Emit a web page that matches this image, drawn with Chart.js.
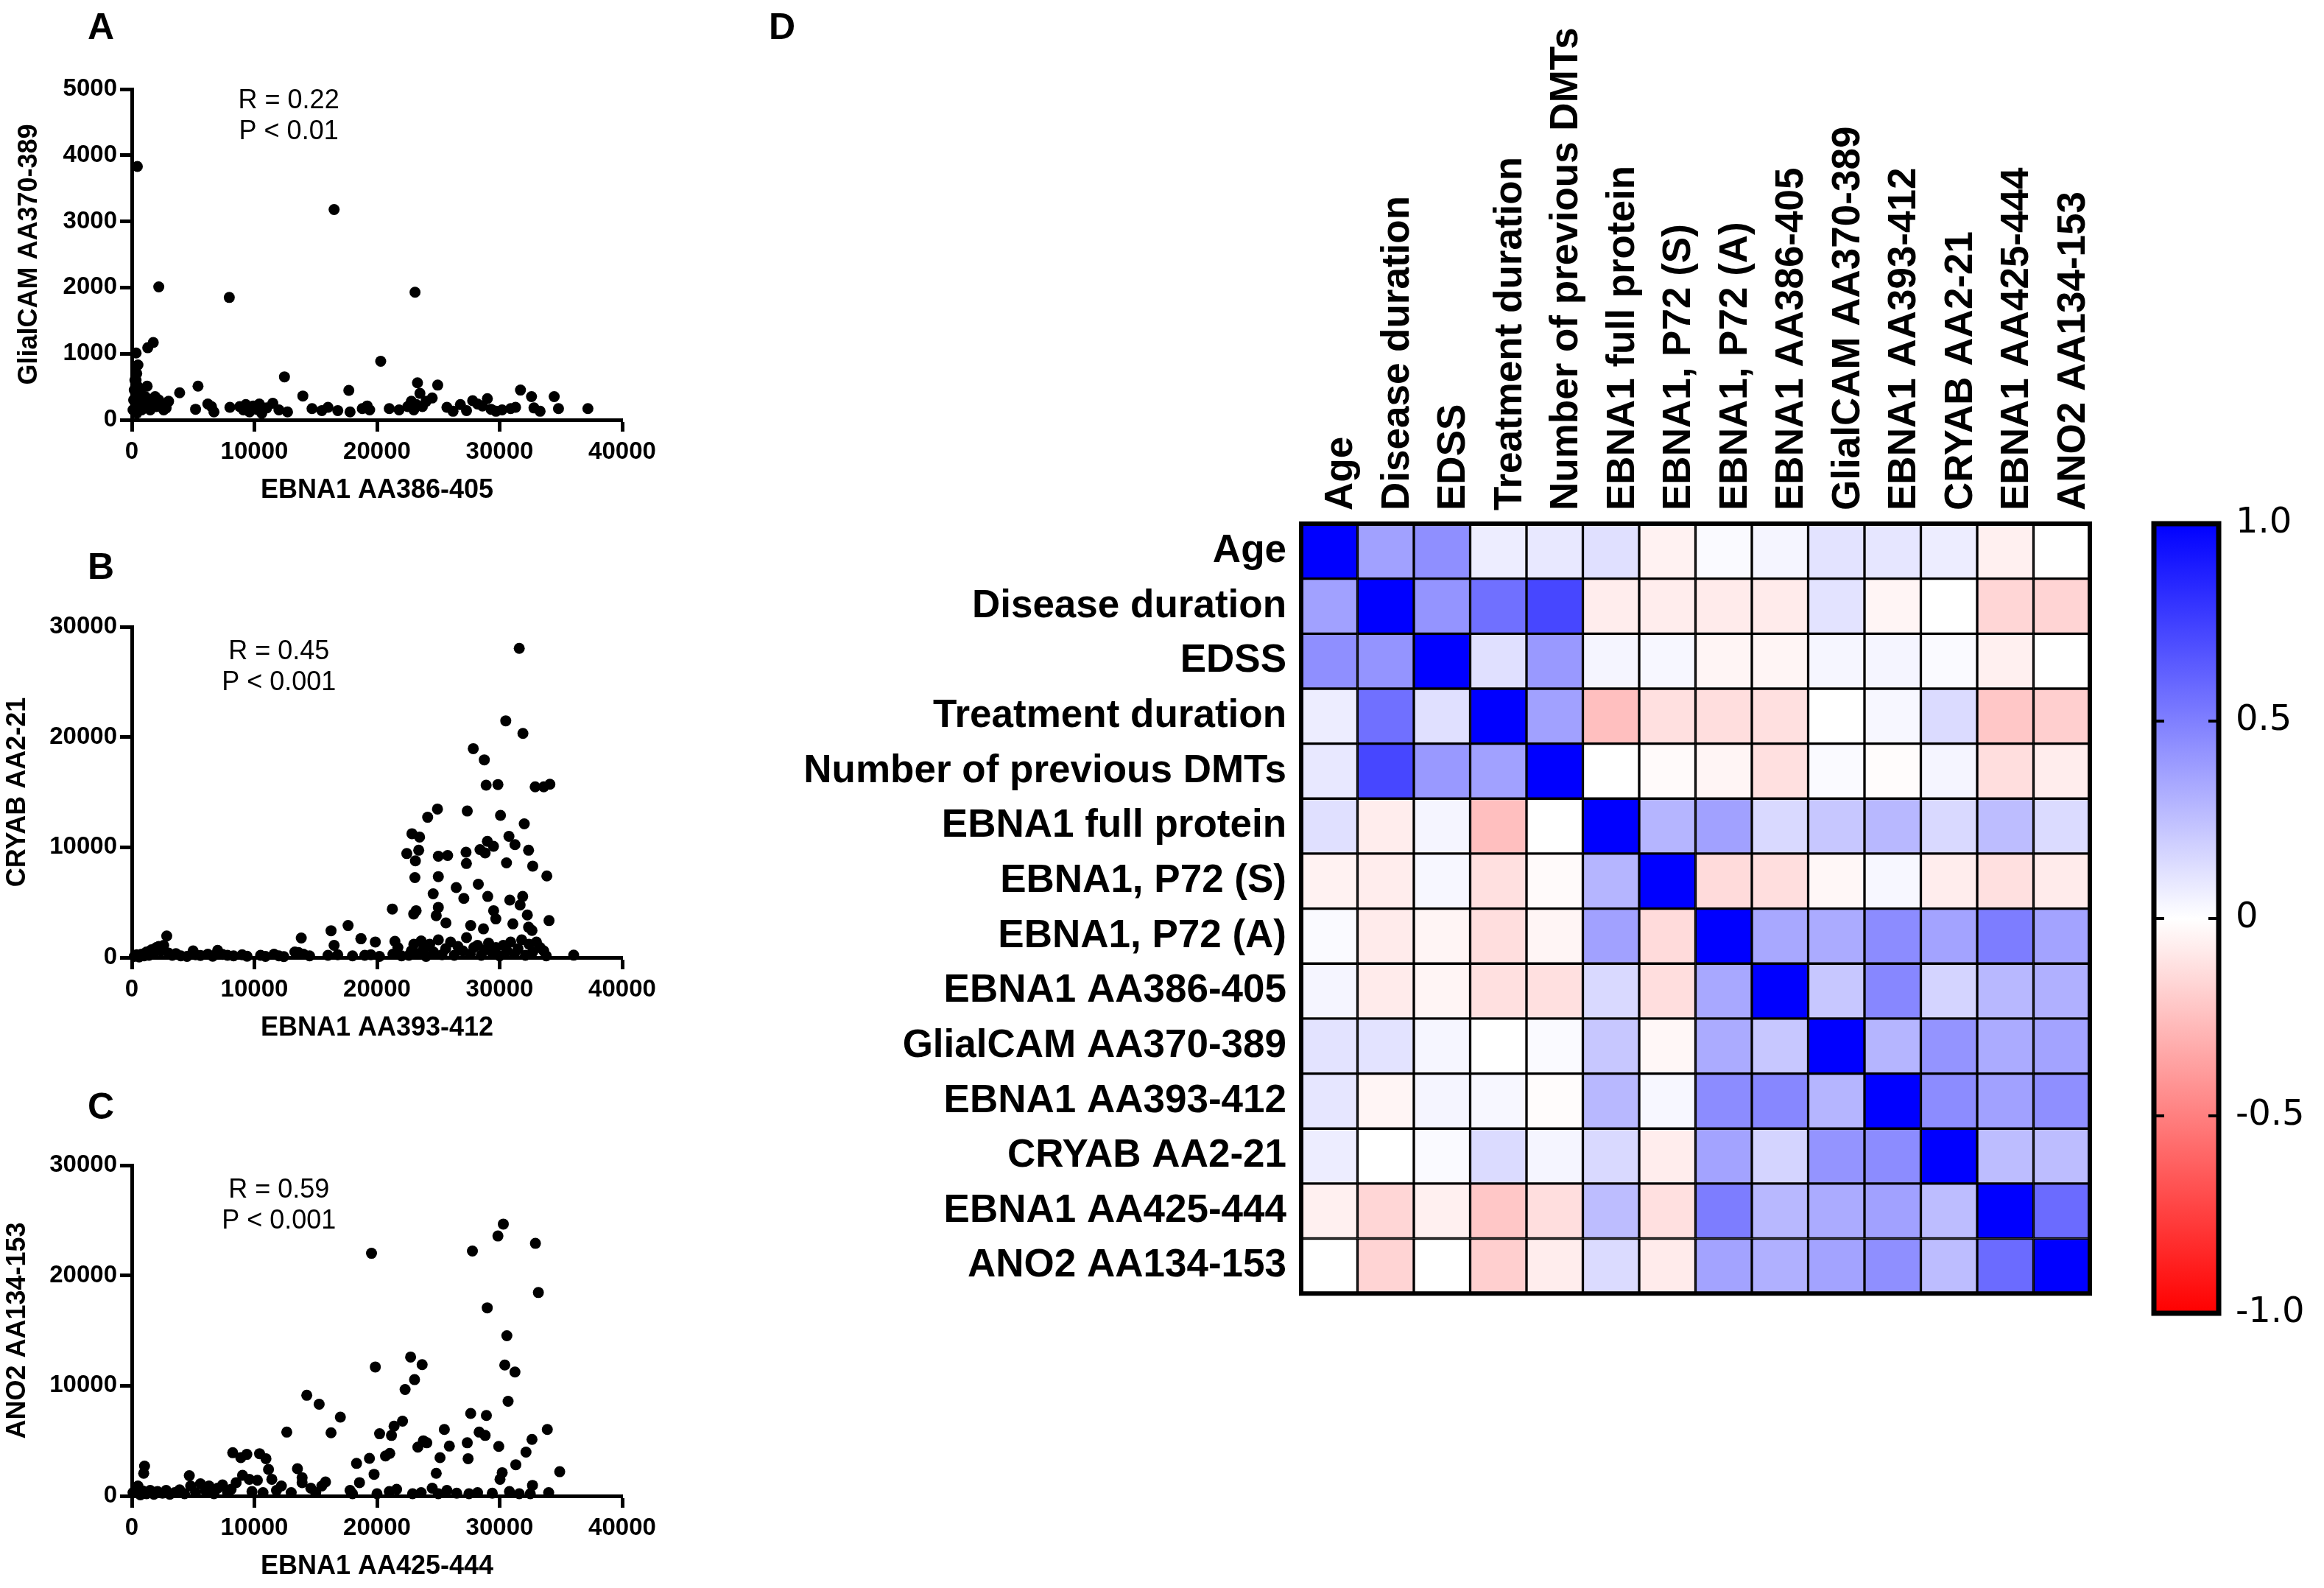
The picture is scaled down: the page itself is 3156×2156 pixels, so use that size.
<!DOCTYPE html>
<html>
<head>
<meta charset="utf-8">
<script src="https://cdn.jsdelivr.net/npm/chart.js@4.4.0/dist/chart.umd.min.js"></script>
<style>
  html, body { margin: 0; padding: 0; background: #fff; }
  #page { position: relative; width: 3156px; height: 2156px; overflow: hidden; background: #fff; }
  canvas { position: absolute; }
  .panel { position: absolute; font-family: 'Liberation Sans', Arial, sans-serif; font-weight: bold; font-size: 50px; line-height: 1; color: #000; }
</style>
</head>
<body>
<div id="page">
  <div class="panel" style="left:119px; top:11px;">A</div>
  <div class="panel" style="left:119px; top:744px;">B</div>
  <div class="panel" style="left:119px; top:1477px;">C</div>
  <div class="panel" style="left:1044px; top:11px;">D</div>
  <canvas id="chartA" width="900" height="695" style="left:0; top:0;"></canvas>
  <canvas id="chartB" width="900" height="695" style="left:0; top:730px;"></canvas>
  <canvas id="chartC" width="900" height="695" style="left:0; top:1461px;"></canvas>
  <canvas id="chartD" width="1810" height="1800" style="left:1040px; top:0;"></canvas>
  <canvas id="chartBar" width="296" height="1300" style="left:2860px; top:600px;"></canvas>
</div>
<script>
// ---- datos de los paneles de dispersión (x, y) ----
const puntosA = [
  [100,150],[150,300],[200,450],[250,600],[300,250],[350,700],[400,100],[450,350],[500,500],[600,200],
  [700,400],[800,150],[900,300],[1000,250],[1100,350],[1200,200],[1250,510],[1400,300],[1500,150],[1700,250],
  [1900,350],[2000,200],[2200,300],[2400,250],[2600,150],[2800,180],[3000,280],
  [450,3830],[350,1010],[500,830],[400,700],[350,600],[1300,1090],[1750,1170],[2200,2010],
  [3900,410],[5200,160],[5400,510],[6200,240],[6500,200],[6700,120],[7950,1850],[8000,190],[8800,200],[9100,150],
  [9300,230],[9600,120],[9900,210],[10200,160],[10400,240],[10600,100],[11000,180],[11500,250],[12000,150],[12450,650],
  [12700,120],[13950,360],[14700,170],[15500,140],[16000,190],[16500,3180],[16800,140],[17700,445],[17800,120],[18800,170],
  [19200,210],[19400,150],[20300,885],[21000,170],[21800,150],[22500,200],[22800,280],[23000,150],[23100,1930],[23300,560],
  [23500,400],[23200,230],[23700,200],[24000,280],[24500,330],[24950,525],[25700,190],[26200,130],[26800,230],[27300,140],
  [27800,290],[28200,240],[28600,210],[29000,320],[29300,160],[29700,130],[30200,150],[30900,170],[31300,190],[31700,450],
  [32600,350],[32800,180],[33300,130],[34450,350],[34800,170],[37200,170]
];

const puntosB = [
  [200,100],[400,250],[600,50],[800,300],[1000,150],[1200,500],[1400,200],[1600,700],[1800,350],[2000,900],
  [2200,1000],[2400,600],[2600,1100],[2850,1950],[3000,400],[3300,200],[3600,350],[4000,150],[4500,100],[5000,600],
  [5200,250],[5600,180],[6200,300],[6600,120],[7000,650],[7400,280],[7800,200],[8300,150],[9000,250],[9400,120],
  [10500,200],[10900,100],[11600,300],[12000,150],[12400,80],[13300,500],[13600,450],[13820,1770],[14000,300],[14500,150],
  [16000,200],[16250,2430],[16500,1100],[16800,250],[17640,2900],[18000,150],[18700,1710],[19000,200],[19500,250],[19860,1410],
  [20200,100],[21300,300],[21460,1470],[21700,900],[22000,150],[22600,200],[22800,600],[23000,1200],[23300,350],[23600,1500],
  [23800,800],[24000,100],[24300,1200],[24600,500],[25000,1600],[25300,250],[25600,800],[26000,1400],[26300,200],[26600,1000],
  [27000,600],[27300,1800],[27600,300],[27900,900],[28200,1100],[28500,200],[28800,700],[29100,1300],[29400,400],[29700,900],
  [30000,150],[30300,1100],[30600,600],[30900,1400],[31200,300],[31500,800],[31800,1600],[32100,200],[32400,1200],[32700,500],
  [33000,1400],[33300,900],[33600,600],[33800,150],[36040,210],
  [31600,28050],[30500,21470],[31900,20330],[27850,18950],[28750,17930],[28900,15630],[29860,15690],[32900,15480],[33600,15480],[34100,15720],
  [24930,13470],[24130,12720],[27360,13290],[30070,12900],[32010,12130],[22850,11230],[23470,10930],[30760,10990],[29000,10540],[29500,10090],
  [31250,10240],[22430,9430],[23400,9730],[27260,9550],[28400,9790],[28820,9490],[32360,9730],[25000,9190],[25760,9250],[23130,8770],
  [30560,8590],[27290,8530],[32700,8290],[23090,7250],[25000,7340],[33850,7400],[26460,6350],[28260,6650],[24580,5780],[29030,5540],
  [31880,5540],[27080,5360],[30830,5210],[31670,4760],[21250,4400],[23190,4250],[22990,3950],[25000,4550],[24830,3800],[29510,4250],
  [29690,3500],[32260,3860],[34030,3350],[25620,3140],[27640,2900],[31080,3050],[28680,2600],[32360,2750],[32640,2460],[18680,1710]
];

const puntosC = [
  [100,300],[300,600],[500,900],[700,100],[900,450],[970,2050],[1040,2710],[1200,200],[1500,500],[1800,150],
  [2100,400],[2500,250],[2800,500],[3100,150],[3500,300],[3900,550],[4300,200],[4690,1840],[4800,900],[5200,300],
  [5600,1100],[6000,500],[6300,900],[6700,200],[7000,700],[7400,1000],[7800,350],[8100,600],[8230,3920],[8510,1210],
  [8890,3470],[9030,1870],[9380,3770],[9580,1510],[9800,400],[10240,1420],[10420,3830],[10700,300],[10940,3380],[11150,2410],
  [11420,1510],[11800,500],[12200,900],[12640,5790],[13000,300],[13510,2470],[13890,1660],[13890,1210],[14270,9130],[14600,700],
  [15000,300],[15280,8320],[15500,900],[15800,1270],[16250,5730],[17010,7150],[17800,500],[18000,200],[18330,2950],[18570,1210],
  [19380,3410],[19550,22010],[19760,1960],[19860,11700],[20000,200],[20210,5640],[20690,3620],[21040,3860],[21180,5490],[21390,6330],
  [21000,400],[21600,600],[22080,6780],[22290,9650],[22740,12600],[22900,200],[23060,10550],[23330,4430],[23600,300],[23680,11910],
  [23780,5000],[24060,4820],[24500,700],[24830,2050],[25000,200],[25140,3470],[25490,6030],[25700,500],[25900,4520],[26500,250],
  [27360,4820],[27430,3380],[27640,7480],[27780,22220],[27500,200],[28200,300],[28330,5790],[28820,5490],[28920,7300],[28990,17060],
  [29400,250],[29860,23580],[29930,4490],[30030,1510],[30210,2110],[30300,24660],[30420,11880],[30590,14530],[30690,8590],[30800,400],
  [31250,11240],[31320,2830],[31600,200],[32150,3980],[32500,200],[32640,5130],[32680,960],[32920,22910],[33160,18450],[33890,6030],
  [34000,300],[34900,2200]
];

const ticksX = [0, 10000, 20000, 30000, 40000];
const statsA = ['R = 0.22', 'P < 0.01'];
const statsB = ['R = 0.45', 'P < 0.001'];
const statsC = ['R = 0.59', 'P < 0.001'];

// ---- matriz de correlación (panel D) ----
const etiquetas = [
  'Age', 'Disease duration', 'EDSS', 'Treatment duration', 'Number of previous DMTs',
  'EBNA1 full protein', 'EBNA1, P72 (S)', 'EBNA1, P72 (A)', 'EBNA1 AA386-405', 'GlialCAM AA370-389',
  'EBNA1 AA393-412', 'CRYAB AA2-21', 'EBNA1 AA425-444', 'ANO2 AA134-153'
];
const correlaciones = [
  [ 1.00, 0.37, 0.44, 0.07, 0.09, 0.12,-0.05, 0.02, 0.04, 0.11, 0.10, 0.07,-0.06, 0.00],
  [ 0.37, 1.00, 0.42, 0.56, 0.72,-0.07,-0.07,-0.08,-0.08, 0.11,-0.04, 0.00,-0.16,-0.17],
  [ 0.44, 0.42, 1.00, 0.12, 0.40, 0.04, 0.03,-0.04,-0.04, 0.035,0.04, 0.02,-0.06, 0.00],
  [ 0.07, 0.56, 0.12, 1.00, 0.37,-0.25,-0.12,-0.13,-0.12, 0.00, 0.03, 0.14,-0.22,-0.19],
  [ 0.09, 0.72, 0.40, 0.37, 1.00, 0.00,-0.02,-0.04,-0.12, 0.02,-0.01, 0.04,-0.13,-0.07],
  [ 0.12,-0.07, 0.04,-0.25, 0.00, 1.00, 0.29, 0.37, 0.15, 0.22, 0.28, 0.15, 0.26, 0.14],
  [-0.05,-0.07, 0.03,-0.12,-0.02, 0.29, 1.00,-0.14,-0.13,-0.03, 0.03,-0.07,-0.12,-0.08],
  [ 0.02,-0.08,-0.04,-0.13,-0.04, 0.37,-0.14, 1.00, 0.34, 0.33, 0.45, 0.36, 0.51, 0.36],
  [ 0.04,-0.08,-0.04,-0.12,-0.12, 0.15,-0.13, 0.34, 1.00, 0.22, 0.47, 0.17, 0.28, 0.31],
  [ 0.11, 0.11, 0.035,0.00, 0.02, 0.22,-0.03, 0.33, 0.22, 1.00, 0.29, 0.42, 0.33, 0.36],
  [ 0.10,-0.04, 0.04, 0.03,-0.01, 0.28, 0.03, 0.45, 0.47, 0.29, 1.00, 0.45, 0.37, 0.44],
  [ 0.07, 0.00, 0.02, 0.14, 0.04, 0.15,-0.07, 0.36, 0.17, 0.42, 0.45, 1.00, 0.26, 0.26],
  [-0.06,-0.16,-0.06,-0.22,-0.13, 0.26,-0.12, 0.51, 0.28, 0.33, 0.37, 0.26, 1.00, 0.58],
  [ 0.00,-0.17, 0.00,-0.19,-0.07, 0.14,-0.08, 0.36, 0.31, 0.36, 0.44, 0.26, 0.58, 1.00]
];
const ticksBarra = [-1, -0.5, 0, 0.5, 1];

const FUENTE = "'Liberation Sans', Arial, sans-serif";

// rojo (-1) -> blanco (0) -> azul (1)
function colorCelda(v) {
  const t = Math.min(1, Math.abs(v));
  const c = Math.round(255 * (1 - t));
  return v >= 0 ? `rgb(${c},${c},255)` : `rgb(255,${c},${c})`;
}

// texto R / P dentro del área del gráfico
const textoStats = {
  id: 'textoStats',
  afterDraw(chart, args, opts) {
    const { ctx, chartArea } = chart;
    ctx.save();
    ctx.font = `36px ${FUENTE}`;
    ctx.fillStyle = '#000';
    ctx.textAlign = 'center';
    ctx.textBaseline = 'middle';
    opts.lineas.forEach((t, i) => {
      ctx.fillText(t, chartArea.left + opts.x * chartArea.width,
        chartArea.top + (opts.y + i * 0.094) * chartArea.height);
    });
    ctx.restore();
  }
};

function crearDispersion(id, puntos, yMax, yPaso, tituloX, tituloY, stats, posStats, padTituloY) {
  const ejeComun = {
    grid: { display: true, drawOnChartArea: false, drawTicks: true, tickLength: 16, tickWidth: 5, tickColor: '#000', color: '#000' },
    border: { display: true, color: '#000', width: 5 },
    ticks: { color: '#000', font: { family: FUENTE, weight: 'bold', size: 33 }, padding: 6, callback: (v) => String(v) }
  };
  return new Chart(document.getElementById(id), {
    type: 'scatter',
    data: {
      datasets: [{
        data: puntos.map(([x, y]) => ({ x, y })),
        backgroundColor: '#000',
        borderWidth: 0,
        pointRadius: 7.5,
        clip: false
      }]
    },
    options: {
      responsive: false,
      animation: false,
      devicePixelRatio: 1,
      events: [],
      layout: { padding: { top: 121, right: 55, left: 0, bottom: 0 } },
      plugins: {
        legend: { display: false },
        tooltip: { enabled: false },
        textoStats: { lineas: stats, x: posStats[0], y: posStats[1] }
      },
      scales: {
        x: {
          ...ejeComun,
          type: 'linear', min: 0, max: 40000,
          afterBuildTicks: (s) => { s.ticks = ticksX.map(v => ({ value: v })); },
          ticks: { ...ejeComun.ticks, maxRotation: 0, padding: 8 },
          title: { display: true, text: tituloX, color: '#000', font: { family: FUENTE, weight: 'bold', size: 36 }, padding: { bottom: 7 } },
          afterFit: (s) => { s.height = 125; }
        },
        y: {
          ...ejeComun,
          type: 'linear', min: 0, max: yMax,
          ticks: { ...ejeComun.ticks, stepSize: yPaso, padding: 4 },
          title: { display: true, text: tituloY, color: '#000', font: { family: FUENTE, weight: 'bold', size: 36 }, padding: { top: padTituloY } },
          afterFit: (s) => { s.width = 179; }
        }
      }
    },
    plugins: [textoStats]
  });
}

crearDispersion('chartA', puntosA, 5000, 1000, 'EBNA1 AA386-405', 'GlialCAM AA370-389', statsA, [0.32, 0.036], 18);
crearDispersion('chartB', puntosB, 30000, 10000, 'EBNA1 AA393-412', 'CRYAB AA2-21', statsB, [0.30, 0.076], 2);
crearDispersion('chartC', puntosC, 30000, 10000, 'EBNA1 AA425-444', 'ANO2 AA134-153', statsC, [0.30, 0.076], 2);

// ---- mapa de calor: una barra flotante por celda ----
const marcoMapa = {
  id: 'marcoMapa',
  afterDatasetsDraw(chart) {
    const { ctx, chartArea } = chart;
    ctx.save();
    ctx.strokeStyle = '#000';
    ctx.lineWidth = 6;
    ctx.strokeRect(chartArea.left, chartArea.top, chartArea.width, chartArea.height);
    ctx.restore();
  }
};

new Chart(document.getElementById('chartD'), {
  type: 'bar',
  data: {
    labels: etiquetas,
    datasets: correlaciones.map((fila, r) => ({
      data: fila.map(() => [r, r + 1]),
      backgroundColor: fila.map(colorCelda),
      borderColor: '#000',
      borderWidth: 2,
      borderSkipped: false,
      grouped: false,
      barPercentage: 1,
      categoryPercentage: 1
    }))
  },
  options: {
    responsive: false,
    animation: false,
    devicePixelRatio: 1,
    events: [],
    layout: { padding: { top: 0, left: 0, right: 12, bottom: 17 } },
    plugins: { legend: { display: false }, tooltip: { enabled: false } },
    scales: {
      x: {
        position: 'top',
        grid: { display: false },
        border: { display: false },
        ticks: {
          autoSkip: false, minRotation: 90, maxRotation: 90, padding: 10, labelOffset: 80,
          color: '#000', font: { family: FUENTE, weight: 'bold', size: 53 }
        },
        afterFit: (s) => { s.height = 711; }
      },
      y: {
        type: 'linear', min: 0, max: etiquetas.length, reverse: true,
        grid: { display: false },
        border: { display: false },
        afterBuildTicks: (s) => { s.ticks = etiquetas.map((_, i) => ({ value: i + 0.5 })); },
        ticks: {
          padding: 12, color: '#000',
          font: { family: FUENTE, weight: 'bold', size: 53 },
          callback: (v) => etiquetas[Math.floor(v)]
        },
        afterFit: (s) => { s.width = 727; }
      }
    }
  },
  plugins: [marcoMapa]
});

// ---- barra de color ----
const marcoBarra = {
  id: 'marcoBarra',
  afterDatasetsDraw(chart) {
    const { ctx, chartArea, scales } = chart;
    ctx.save();
    ctx.strokeStyle = '#000';
    ctx.lineWidth = 4;
    [-0.5, 0, 0.5].forEach(v => {
      const y = scales.y.getPixelForValue(v);
      ctx.beginPath();
      ctx.moveTo(chartArea.left, y); ctx.lineTo(chartArea.left + 14, y);
      ctx.moveTo(chartArea.right - 14, y); ctx.lineTo(chartArea.right, y);
      ctx.stroke();
    });
    ctx.lineWidth = 7;
    ctx.strokeRect(chartArea.left, chartArea.top, chartArea.width, chartArea.height);
    ctx.restore();
  }
};

new Chart(document.getElementById('chartBar'), {
  type: 'bar',
  data: {
    labels: [''],
    datasets: [{
      data: [[ticksBarra[0], ticksBarra[ticksBarra.length - 1]]],
      barPercentage: 1,
      categoryPercentage: 1,
      borderWidth: 0,
      backgroundColor: (c) => {
        const area = c.chart.chartArea;
        if (!area) return '#fff';
        const g = c.chart.ctx.createLinearGradient(0, area.bottom, 0, area.top);
        g.addColorStop(0, colorCelda(-1));
        g.addColorStop(0.5, colorCelda(0));
        g.addColorStop(1, colorCelda(1));
        return g;
      }
    }]
  },
  options: {
    responsive: false,
    animation: false,
    devicePixelRatio: 1,
    events: [],
    layout: { padding: { top: 111, left: 65, right: 0, bottom: 117 } },
    plugins: { legend: { display: false }, tooltip: { enabled: false } },
    scales: {
      x: { display: false },
      y: {
        position: 'right',
        min: -1, max: 1,
        grid: { display: false },
        border: { display: false },
        afterBuildTicks: (s) => { s.ticks = ticksBarra.map(v => ({ value: v })); },
        ticks: {
          padding: 15, color: '#000',
          font: { family: "'DejaVu Sans', sans-serif", size: 48 },
          callback: (v) => v === 0 ? '0' : v.toFixed(1)
        },
        afterFit: (s) => { s.width = 143; }
      }
    }
  },
  plugins: [marcoBarra]
});
</script>
</body>
</html>
